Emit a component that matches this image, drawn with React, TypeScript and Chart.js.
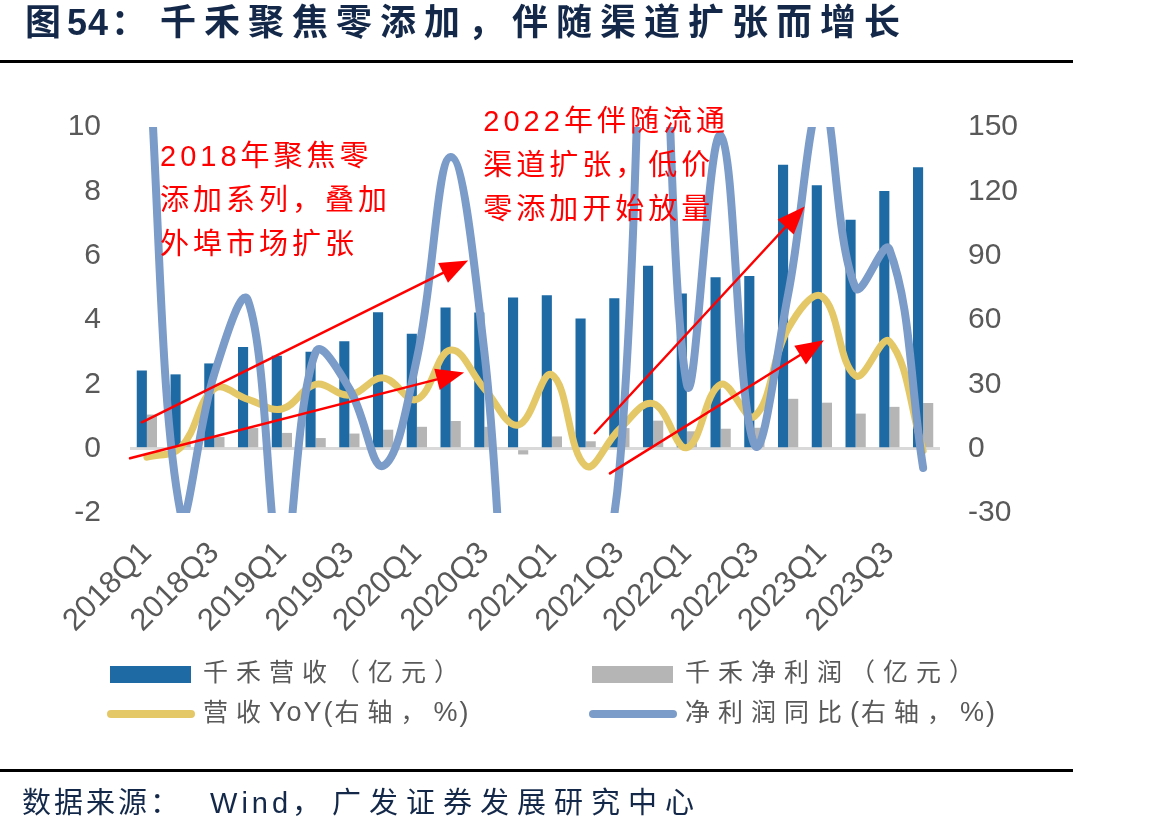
import React, { useEffect, useRef } from 'react';
import { Chart, registerables } from 'chart.js';

Chart.register(...registerables);

// ---- data ----
const quarters = [
  '2018Q1', '2018Q2', '2018Q3', '2018Q4',
  '2019Q1', '2019Q2', '2019Q3', '2019Q4',
  '2020Q1', '2020Q2', '2020Q3', '2020Q4',
  '2021Q1', '2021Q2', '2021Q3', '2021Q4',
  '2022Q1', '2022Q2', '2022Q3', '2022Q4',
  '2023Q1', '2023Q2', '2023Q3', '2023Q4',
];
// 千禾营收（亿元）
const revenue = [
  2.43, 2.31, 2.65, 3.16, 2.89, 3.01, 3.34, 4.24,
  3.57, 4.39, 4.23, 4.70, 4.77, 4.05, 4.68, 5.69,
  4.82, 5.33, 5.37, 8.83, 8.19, 7.12, 8.01, 8.75,
];
// 千禾净利润（亿元）
const netProfit = [
  1.06, 0.23, 0.36, 0.64, 0.49, 0.33, 0.47, 0.59,
  0.68, 0.86, 0.68, -0.18, 0.38, 0.23, 0.64, 0.87,
  0.54, 0.62, 0.65, 1.55, 1.43, 1.09, 1.30, 1.42,
];
// 营收YoY（%）
const revenueYoY = [
  -4, 0.5, 28, 23, 18.5, 30, 25, 33,
  23, 46, 28, 11, 34.5, -8, 9, 21,
  0.5, 30, 15, 56, 71, 34, 50, -1,
];
// 净利润同比（%）
const profitYoY = [
  200, -30, 35, 69, -55, 45, 28, -8,
  42, 136, 45, -135, -45, -73, -10, 300,
  30, 146, 2, 72, 162, 75, 93, -9,
];
const leftTickRange = [-2, 10, 2];
const rightTickRange = [-30, 150, 30];

// annotations in data coordinates: [category index, left-axis value]
const arrows = [
  { from: [-0.15, 0.82], to: [9.52, 5.85] },
  { from: [-0.5, -0.3], to: [9.4, 2.37] },
  { from: [13.27, 0.48], to: [19.49, 7.53] },
  { from: [13.72, -0.77], to: [20.06, 3.37] },
];
const notes = [
  { at: [0.39, 9.5], lines: ['2018年聚焦零', '添加系列，叠加', '外埠市场扩张'] },
  { at: [9.97, 10.57], lines: ['2022年伴随流通', '渠道扩张，低价', '零添加开始放量'] },
];

const C_REV = '#1d6aa5';
const C_NP = '#b5b5b5';
const C_YOY = '#e4c767';
const C_NPYOY = '#7b9bc8';
const C_TXT = '#595959';
const C_NAVY = '#14294a';
const AXIS_FONT = '"Liberation Sans", Arial';

const notesPlugin = {
  id: 'notes',
  afterDatasetsDraw(chart: any) {
    const { ctx, scales } = chart;
    const x = scales.x;
    const y = scales.y;
    ctx.save();
    ctx.strokeStyle = '#ff0000';
    ctx.fillStyle = '#ff0000';
    ctx.lineWidth = 2.5;
    ctx.lineCap = 'round';
    for (const a of arrows) {
      const x1 = x.getPixelForValue(a.from[0]);
      const y1 = y.getPixelForValue(a.from[1]);
      const x2 = x.getPixelForValue(a.to[0]);
      const y2 = y.getPixelForValue(a.to[1]);
      const ang = Math.atan2(y2 - y1, x2 - x1);
      const L = 28;
      const W = 11;
      const bx = x2 - L * Math.cos(ang);
      const by = y2 - L * Math.sin(ang);
      ctx.beginPath();
      ctx.moveTo(x1, y1);
      ctx.lineTo(bx, by);
      ctx.stroke();
      ctx.beginPath();
      ctx.moveTo(x2, y2);
      ctx.lineTo(bx + W * Math.sin(ang), by - W * Math.cos(ang));
      ctx.lineTo(bx - W * Math.sin(ang), by + W * Math.cos(ang));
      ctx.closePath();
      ctx.fill();
    }
    ctx.font = '29px "Liberation Sans", "Noto Sans CJK SC"';
    (ctx as any).letterSpacing = '4px';
    ctx.textBaseline = 'top';
    ctx.textAlign = 'left';
    for (const n of notes) {
      const px = x.getPixelForValue(n.at[0]);
      const py = y.getPixelForValue(n.at[1]);
      n.lines.forEach((t, i) => ctx.fillText(t, px, py + i * 44));
    }
    ctx.restore();
  },
};

export default function App() {
  const ref = useRef<HTMLCanvasElement | null>(null);

  useEffect(() => {
    if (!ref.current) return;
    const chart = new Chart(ref.current, {
      type: 'bar',
      data: {
        labels: quarters,
        datasets: [
          {
            type: 'line',
            label: '净利润同比(右轴，%)',
            data: profitYoY,
            yAxisID: 'y1',
            borderColor: C_NPYOY,
            backgroundColor: C_NPYOY,
            borderWidth: 8,
            pointRadius: 0,
            tension: 0.4,
            borderCapStyle: 'round',
            borderJoinStyle: 'round',
            order: 0,
          } as any,
          {
            type: 'line',
            label: '营收YoY(右轴，%)',
            data: revenueYoY,
            yAxisID: 'y1',
            borderColor: C_YOY,
            backgroundColor: C_YOY,
            borderWidth: 7,
            pointRadius: 0,
            tension: 0.4,
            borderCapStyle: 'round',
            borderJoinStyle: 'round',
            order: 1,
          } as any,
          {
            type: 'bar',
            label: '千禾营收（亿元）',
            data: revenue,
            yAxisID: 'y',
            backgroundColor: C_REV,
            categoryPercentage: 0.6,
            barPercentage: 1.0,
            order: 2,
          },
          {
            type: 'bar',
            label: '千禾净利润（亿元）',
            data: netProfit,
            yAxisID: 'y',
            backgroundColor: C_NP,
            categoryPercentage: 0.6,
            barPercentage: 1.0,
            order: 3,
          },
        ],
      },
      options: {
        responsive: false,
        animation: false,
        layout: { padding: { top: 127, left: 0, right: 0, bottom: 0 } },
        elements: { line: { capBezierPoints: false } as any },
        plugins: {
          legend: { display: false },
          tooltip: { enabled: false },
        },
        scales: {
          x: {
            offset: true,
            grid: { display: false },
            border: { display: false },
            ticks: {
              autoSkip: false,
              maxRotation: 45,
              minRotation: 45,
              padding: 14,
              color: C_TXT,
              font: { family: AXIS_FONT, size: 31 },
              callback: (_v: any, i: number) => (i % 2 === 0 ? quarters[i] : ''),
            },
            afterFit: (s: any) => {
              s.height = 326;
            },
          },
          y: {
            position: 'left',
            min: leftTickRange[0],
            max: leftTickRange[1],
            border: { display: false },
            grid: {
              drawTicks: false,
              lineWidth: 3,
              color: (c: any) => (c.tick && c.tick.value === 0 ? '#d9d9d9' : 'rgba(0,0,0,0)'),
            },
            ticks: {
              stepSize: leftTickRange[2],
              padding: 29,
              color: C_TXT,
              font: { family: AXIS_FONT, size: 30 },
            },
            afterFit: (s: any) => {
              s.width = 130;
            },
          },
          y1: {
            position: 'right',
            min: rightTickRange[0],
            max: rightTickRange[1],
            border: { display: false },
            grid: { display: false, drawTicks: false },
            ticks: {
              stepSize: rightTickRange[2],
              padding: 28,
              color: C_TXT,
              font: { family: AXIS_FONT, size: 30 },
            },
            afterFit: (s: any) => {
              s.width = 229;
            },
          },
        },
      },
      plugins: [notesPlugin],
    });
    return () => chart.destroy();
  }, []);

  const legendText: React.CSSProperties = {
    position: 'absolute',
    fontFamily: '"Liberation Sans", "Noto Sans CJK SC", sans-serif',
    fontSize: 25,
    lineHeight: '25px',
    letterSpacing: 8,
    color: C_TXT,
    whiteSpace: 'nowrap',
  };
  const latin: React.CSSProperties = { letterSpacing: 2, fontSize: 27 };
  const ib: React.CSSProperties = { display: 'inline-block' };

  return (
    <div style={{ position: 'absolute', left: 0, top: 0, width: 1169, height: 839, background: '#fff', overflow: 'hidden' }}>
      <canvas ref={ref} width={1169} height={839} style={{ position: 'absolute', left: 0, top: 0, width: 1169, height: 839 }} />
      <div
        style={{
          position: 'absolute',
          left: 25,
          top: 5,
          fontFamily: '"Liberation Sans", "Noto Sans CJK SC", sans-serif',
          fontWeight: 'bold',
          fontSize: 36,
          lineHeight: '36px',
          letterSpacing: 8,
          color: C_NAVY,
          whiteSpace: 'nowrap',
        }}
      >
        <span style={{ ...ib, width: 42 }}>图</span>
        <span style={{ ...ib, letterSpacing: 1, width: 44 }}>54</span>
        <span style={{ ...ib, width: 49 }}>：</span>
        <span>千禾聚焦零添加，伴随渠道扩张而增长</span>
      </div>
      <div style={{ position: 'absolute', left: 0, top: 60, width: 1073, height: 3, background: '#000' }} />

      <div style={{ position: 'absolute', left: 110, top: 666, width: 81, height: 17, background: C_REV }} />
      <div style={{ ...legendText, left: 203, top: 660 }}>千禾营收（亿元）</div>
      <div style={{ position: 'absolute', left: 592, top: 666, width: 81, height: 17, background: C_NP }} />
      <div style={{ ...legendText, left: 685, top: 660 }}>千禾净利润（亿元）</div>
      <div style={{ position: 'absolute', left: 107, top: 710, width: 88, height: 8, borderRadius: 4, background: C_YOY }} />
      <div style={{ ...legendText, left: 203, top: 700 }}>
        营收<span style={latin}>YoY(</span>右轴，<span style={latin}>%)</span>
      </div>
      <div style={{ position: 'absolute', left: 589, top: 710, width: 88, height: 8, borderRadius: 4, background: C_NPYOY }} />
      <div style={{ ...legendText, left: 685, top: 700 }}>
        净利润同比<span style={latin}>(</span>右轴，<span style={latin}>%)</span>
      </div>

      <div style={{ position: 'absolute', left: 0, top: 769, width: 1073, height: 3, background: '#000' }} />
      <div
        style={{
          position: 'absolute',
          left: 22,
          top: 789,
          fontFamily: '"Liberation Sans", "Noto Sans CJK SC", sans-serif',
          fontSize: 29,
          lineHeight: '29px',
          color: C_NAVY,
          whiteSpace: 'nowrap',
        }}
      >
        <span style={{ ...ib, letterSpacing: 3 }}>数据来源</span>
        <span style={{ ...ib, width: 60 }}>：</span>
        <span style={{ ...ib, letterSpacing: 4 }}>Wind</span>
        <span style={{ ...ib, width: 40 }}>，</span>
        <span style={{ ...ib, letterSpacing: 8 }}>广发证券发展研究中心</span>
      </div>
    </div>
  );
}
